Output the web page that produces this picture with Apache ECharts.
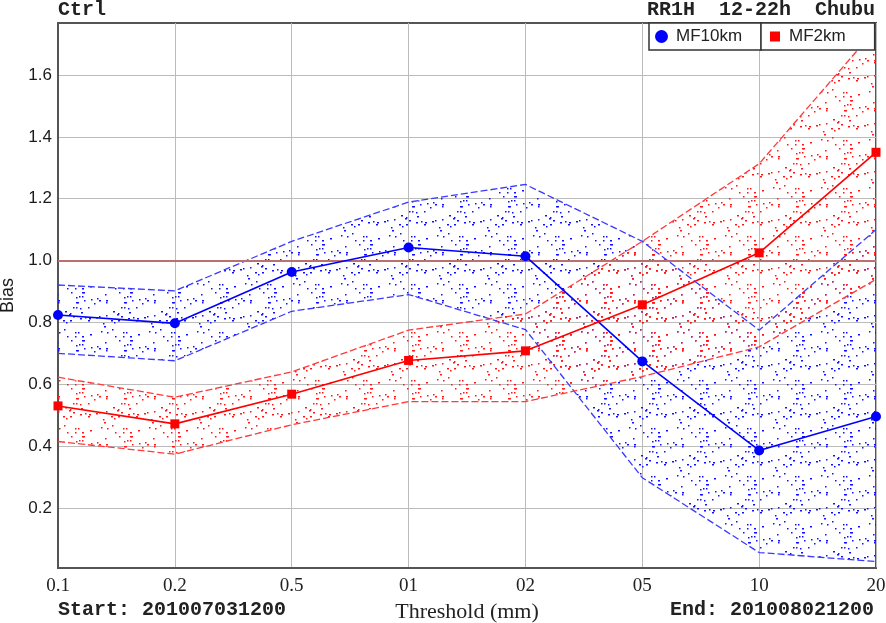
<!DOCTYPE html>
<html>
<head>
<meta charset="utf-8">
<script src="https://cdn.jsdelivr.net/npm/echarts@6/dist/echarts.min.js"></script>
<style>
html,body{margin:0;padding:0;background:#fff;}
#chart{width:886px;height:623px;}
</style>
</head>
<body>
<div id="chart"></div>
<script>
// ---- data ----
const categories = ['0.1', '0.2', '0.5', '01', '02', '05', '10', '20'];
const mf10Bias  = [0.824, 0.797, 0.963, 1.042, 1.014, 0.674, 0.386, 0.496];
const mf10Upper = [0.921, 0.902, 1.062, 1.189, 1.246, 1.062, 0.775, 1.100];
const mf10Lower = [0.700, 0.676, 0.836, 0.890, 0.777, 0.298, 0.056, 0.027];
const mf2Bias   = [0.530, 0.472, 0.568, 0.677, 0.708, 0.857, 1.025, 1.350];
const mf2Upper  = [0.623, 0.558, 0.640, 0.775, 0.827, 1.062, 1.313, 1.749];
const mf2Lower  = [0.415, 0.374, 0.469, 0.544, 0.544, 0.625, 0.721, 0.939];
const yTicks = [0.2, 0.4, 0.6, 0.8, 1.0, 1.2, 1.4, 1.6];
const refLine = 1.0;

// ---- stipple texture (style only) ----
function makeDots(color) {
  const c = document.createElement('canvas');
  c.width = 48; c.height = 48;
  const g = c.getContext('2d');
  g.fillStyle = color;
  let s = 12345;
  function nxt() { s = (s * 9301 + 49297) % 233280; return s / 233280; }
  for (let i = 0; i < 46; i++) {
    const x = Math.floor(nxt() * 48), y = Math.floor(nxt() * 48);
    const w = nxt() < 0.3 ? 2 : 1.5;
    g.fillRect(x, y, w, 1.5);
  }
  return c;
}
const blueDots = makeDots('#1010ff');
const redDots = makeDots('#ff1818');

const diff = (a, b) => a.map((v, i) => +(v - b[i]).toFixed(4));

const chart = echarts.init(document.getElementById('chart'), null, {renderer: 'canvas'});

function bandSeries(stack, lower, upper, img) {
  return [
    {type: 'line', stack: stack, data: lower, symbol: 'none', silent: true,
     lineStyle: {width: 0, opacity: 0}, z: 1},
    {type: 'line', stack: stack, data: diff(upper, lower), symbol: 'none', silent: true,
     lineStyle: {width: 0, opacity: 0},
     areaStyle: {color: {image: img, repeat: 'repeat'}, opacity: 1}, z: 1}
  ];
}
function dashSeries(data, color) {
  return {type: 'line', data: data, symbol: 'none', silent: true, z: 3,
          lineStyle: {color: color, width: 1.3, type: [7, 3]}};
}

const option = {
  animation: false,
  backgroundColor: '#fff',
  grid: {left: 58, right: 10, top: 23, bottom: 55, show: true, borderColor: '#555', borderWidth: 2,
         containLabel: false, outerBoundsMode: 'none'},
  legend: [
    {data: [{name: 'MF10km', icon: 'circle'}], left: 649, top: 23, orient: 'horizontal',
     padding: [5, 19, 5, 6], itemWidth: 13, itemHeight: 13, itemGap: 0,
     borderColor: '#333', borderWidth: 1.5, backgroundColor: '#fff', selectedMode: false,
     textStyle: {fontFamily: 'Liberation Sans', fontSize: 17, lineHeight: 17, color: '#222', padding: [0, 0, 0, 3]}},
    {data: [{name: 'MF2km', icon: 'rect'}], left: 761, top: 23, orient: 'horizontal',
     padding: [5, 29, 5, 9], itemWidth: 10, itemHeight: 10, itemGap: 0,
     borderColor: '#333', borderWidth: 1.5, backgroundColor: '#fff', selectedMode: false,
     textStyle: {fontFamily: 'Liberation Sans', fontSize: 17, lineHeight: 17, color: '#222', padding: [0, 0, 0, 4]}}
  ],
  xAxis: {
    type: 'category', data: categories, boundaryGap: false,
    axisLine: {show: true, lineStyle: {color: '#555', width: 2}},
    axisTick: {show: false},
    axisLabel: {fontFamily: 'Liberation Serif', fontSize: 19, color: '#222', margin: 9},
    splitLine: {show: true, lineStyle: {color: '#bbb', width: 1}},
    name: 'Threshold (mm)', nameLocation: 'middle', nameGap: 33,
    nameTextStyle: {fontFamily: 'Liberation Serif', fontSize: 22, color: '#222'}
  },
  yAxis: {
    type: 'value', min: 0.006, max: 1.768,
    axisLine: {show: true, lineStyle: {color: '#555', width: 2}},
    axisTick: {show: false, customValues: yTicks},
    axisLabel: {customValues: yTicks, formatter: v => (+v).toFixed(1),
                fontFamily: 'Liberation Sans', fontSize: 17, color: '#1a1a1a', margin: 6},
    splitLine: {show: true, lineStyle: {color: '#bbb', width: 1}},
    name: 'Bias', nameLocation: 'middle', nameGap: 38,
    nameTextStyle: {fontFamily: 'Liberation Sans', fontSize: 18, color: '#1a1a1a'}
  },
  graphic: [
    {type: 'text', left: 58, top: 0, style: {text: 'Ctrl', font: 'bold 20px "Liberation Mono"', fill: '#222'}},
    {type: 'text', right: 11, top: 0, style: {text: 'RR1H  12-22h  Chubu', font: 'bold 20px "Liberation Mono"', fill: '#222'}},
    {type: 'text', left: 58, top: 600, style: {text: 'Start: 201007031200', font: 'bold 20px "Liberation Mono"', fill: '#222'}},
    {type: 'text', right: 12, top: 600, style: {text: 'End: 201008021200', font: 'bold 20px "Liberation Mono"', fill: '#222'}}
  ],
  series: [
    ...bandSeries('b10', mf10Lower, mf10Upper, blueDots),
    ...bandSeries('b2', mf2Lower, mf2Upper, redDots),
    dashSeries(mf10Upper, '#3a3aff'),
    dashSeries(mf10Lower, '#3a3aff'),
    dashSeries(mf2Upper, '#ff3a3a'),
    dashSeries(mf2Lower, '#ff3a3a'),
    {name: 'MF10km', type: 'line', data: mf10Bias, symbol: 'circle', symbolSize: 10, z: 5,
     itemStyle: {color: '#0000ff'}, lineStyle: {color: '#0000ff', width: 1.6},
     markLine: {silent: true, symbol: 'none', data: [{yAxis: refLine}], label: {show: false},
                lineStyle: {color: '#bb7070', width: 2, type: 'solid'}}},
    {name: 'MF2km', type: 'line', data: mf2Bias, symbol: 'rect', symbolSize: 9, z: 5,
     itemStyle: {color: '#ff0000'}, lineStyle: {color: '#ff0000', width: 1.6}}
  ]
};
chart.setOption(option);
</script>
</body>
</html>
